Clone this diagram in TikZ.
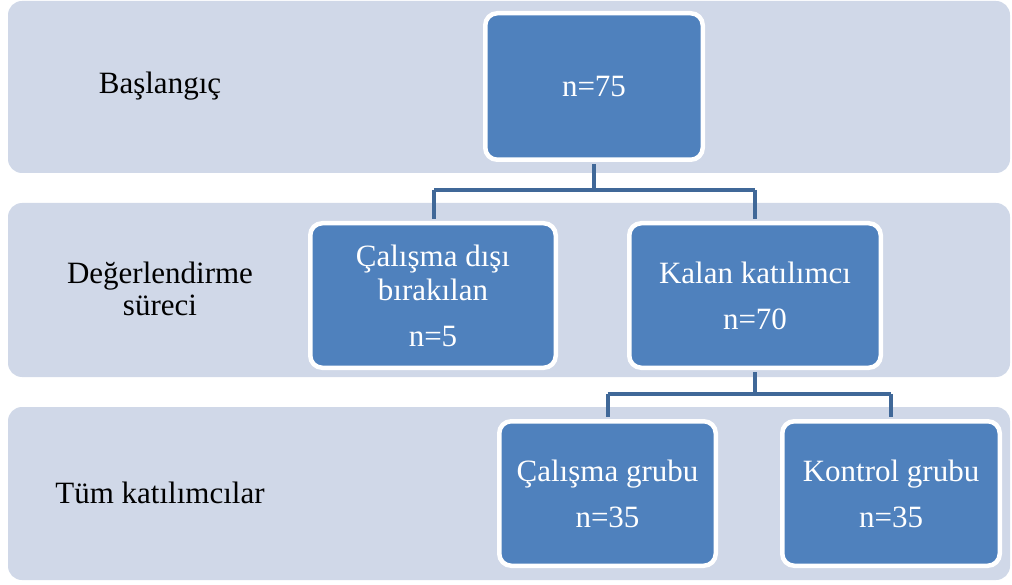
\documentclass[tikz,border=0pt]{standalone}
\usepackage{fontspec}
\setmainfont{Liberation Serif}
\definecolor{bandcol}{RGB}{208,216,232}
\definecolor{boxblue}{RGB}{79,129,189}
\definecolor{linkcol}{RGB}{64,104,152}
\tikzset{
  band/.style={fill=bandcol, draw=none, rounded corners=14pt},
  stagebox/.style={fill=boxblue, draw=white, line width=4.5pt, rounded corners=12pt,
    text=white, align=center, font=\fontsize{31}{34}\selectfont, inner sep=0pt},
  lbl/.style={align=center, font=\fontsize{31}{32}\selectfont, text=black},
  link/.style={draw=linkcol, line width=4pt}
}
\begin{document}
\begin{tikzpicture}[x=1pt,y=-1pt]
\useasboundingbox (0,0) rectangle (1012,585);
% bands
\path[band] (8,1) rectangle (1010,173);
\path[band] (8,203) rectangle (1010,377);
\path[band] (8,407) rectangle (1010,580);
% row labels
\node[lbl] (l1) at (160,86) {Başlangıç};
\node[lbl] (l2) at (160,289) {Değerlendirme\\süreci};
\node[lbl] (l3) at (160,493) {Tüm katılımcılar};
% boxes
\node[stagebox, minimum width=217.5pt, minimum height=146.5pt] (a) at (594,86.5) {n=75};
\node[stagebox, minimum width=245.5pt, minimum height=144.5pt] (b) at (433,295.5) {Çalışma dışı\\bırakılan\\[12pt]n=5};
\node[stagebox, minimum width=251.5pt, minimum height=144.5pt] (c) at (755,295.5) {Kalan katılımcı\\[12pt]n=70};
\node[stagebox, minimum width=216.5pt, minimum height=144.5pt] (d) at (607.5,493.5) {Çalışma grubu\\[12pt]n=35};
\node[stagebox, minimum width=217.5pt, minimum height=144.5pt] (e) at (891,493.5) {Kontrol grubu\\[12pt]n=35};
% connectors
\coordinate (j1) at (594,190);
\coordinate (j2) at (755,394);
\draw[link] ([yshift=-2.25pt]a.south) -- (j1);
\draw[link] (434,190) -- (755,190);
\draw[link] (434,190) -- ([xshift=1pt,yshift=2.25pt]b.north);
\draw[link] (755,190) -- ([yshift=2.25pt]c.north);
\draw[link] ([yshift=-2.25pt]c.south) -- (j2);
\draw[link] (607.5,394) -- (891,394);
\draw[link] (607.5,394) -- ([yshift=2.25pt]d.north);
\draw[link] (891,394) -- ([yshift=2.25pt]e.north);
\end{tikzpicture}
\end{document}
